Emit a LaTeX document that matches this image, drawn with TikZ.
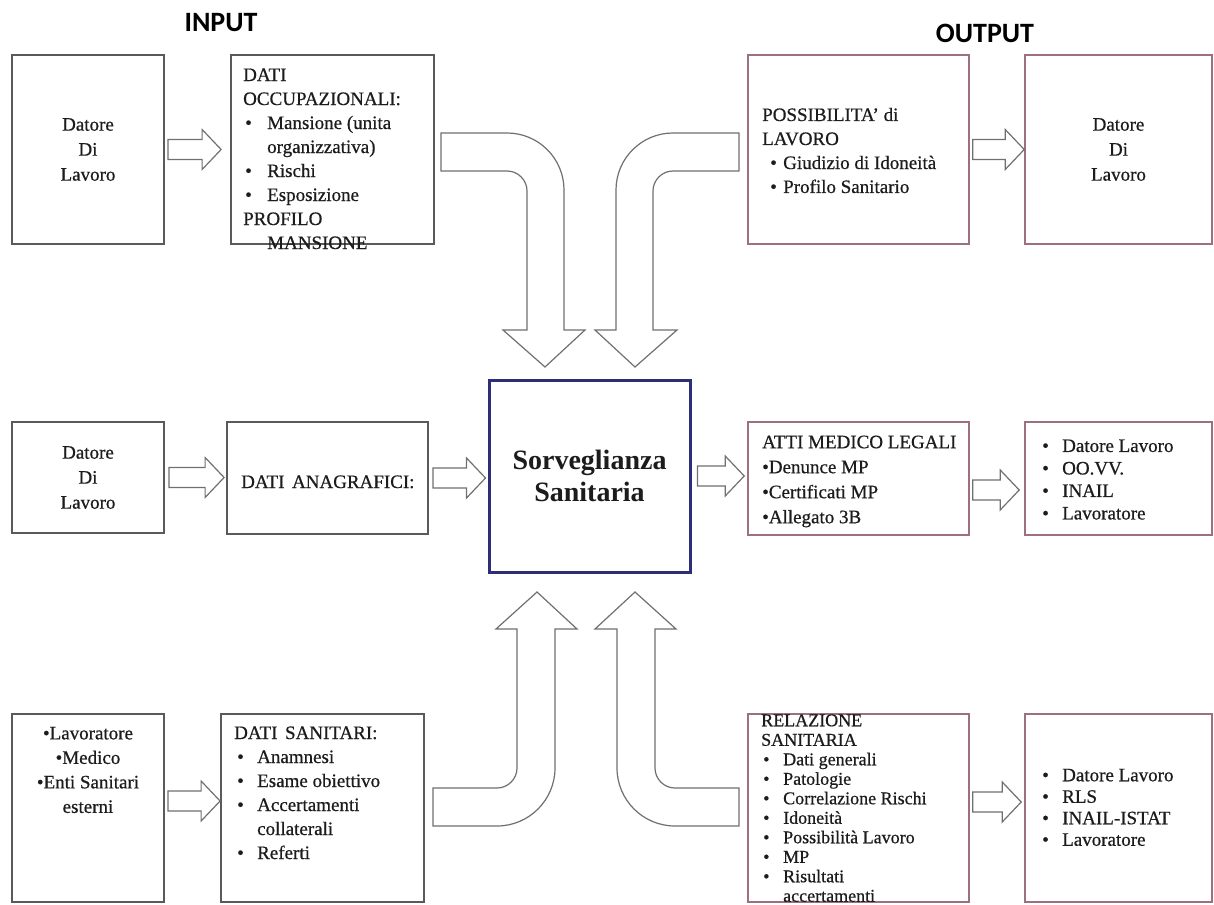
\documentclass[tikz,border=0pt]{standalone}
\usepackage{fontspec}
\setmainfont{Liberation Serif}[UprightFeatures={FakeBold=0.6}]
\newfontfamily\headfont{Carlito}
\usetikzlibrary{calc,fit}
\definecolor{gline}{HTML}{5A5A5A}
\definecolor{mline}{HTML}{9E6F7C}
\definecolor{navyline}{HTML}{2E2E78}
\definecolor{agray}{HTML}{707070}
\definecolor{txtc}{HTML}{1C1C1C}
\newcommand{\bl}[2]{\makebox[#2pt][l]{\hspace{#1pt}•}}
\newcommand{\hblock}[5]{%
  \draw[blk] let \p1=($(#1.east)+(#4,#3)$), \p2=($(#2.west)+(-#5,#3)$) in
    (\x1,\y1+10pt) -- (\x2-19pt,\y1+10pt) -- (\x2-19pt,\y1+20pt) -- (\x2,\y1)
    -- (\x2-19pt,\y1-20pt) -- (\x2-19pt,\y1-10pt) -- (\x1,\y1-10pt) -- cycle;}
\tikzset{
  lbox/.style={draw=gline, line width=1.8pt, inner sep=0pt},
  rbox/.style={draw=mline, line width=1.6pt, inner sep=0pt},
  cbox/.style={draw=navyline, line width=3pt, inner sep=0pt},
  blk/.style={draw=agray, line width=1.2pt, fill=white, line join=miter},
  txt/.style={inner sep=0pt, text=txtc, align=left, font=\fontsize{19}{24}\selectfont},
  ctxt/.style={inner sep=0pt, text=txtc, align=center, font=\fontsize{19}{25}\selectfont},
  head/.style={inner sep=0pt, text=black, font=\headfont\bfseries\fontsize{28}{32}\selectfont},
}
\begin{document}
\begin{tikzpicture}[x=1pt,y=-1pt]
\useasboundingbox[fill=white] (0,0) rectangle (1214,904);

% headers
\node[head] (inp) at (221,23) {INPUT};
\node[head] (outp) at (985,33) {OUTPUT};

% boxes
\node[lbox, fit={(12,55) (164,244)}] (a1) {};
\node[lbox, fit={(231,55) (434,244)}] (b1) {};
\node[rbox, fit={(748,55) (969,244)}] (c1) {};
\node[rbox, fit={(1025,55) (1212,244)}] (d1) {};
\node[lbox, fit={(12,422) (164,533)}] (a2) {};
\node[lbox, fit={(227,422) (428,534)}] (b2) {};
\node[cbox, fit={(489,380) (690,572)}] (s) {};
\node[rbox, fit={(748,422) (969,535)}] (c2) {};
\node[rbox, fit={(1025,422) (1212,535)}] (d2) {};
\node[lbox, fit={(12,714) (164,902)}] (a3) {};
\node[lbox, fit={(221,714) (424,902)}] (b3) {};
\node[rbox, fit={(748,714) (969,902)}] (c3) {};
\node[rbox, fit={(1025,714) (1212,902)}] (d3) {};

% texts
\node[ctxt] (a1t) at (a1.center) {Datore\\Di\\Lavoro};
\node[txt, anchor=north west] (b1t) at (243,64) {\strut DATI\\OCCUPAZIONALI:\\\bl{2}{24}Mansione (unita\\\hspace*{24pt}organizzativa)\\\bl{2}{24}Rischi\\\bl{2}{24}Esposizione\\PROFILO\\\hspace*{24pt}MANSIONE};
\node[txt, anchor=north west] (c1t) at (762,104) {\strut POSSIBILITA' di\\LAVORO\\\bl{8}{21}Giudizio di Idoneità\\\bl{8}{21}Profilo Sanitario};
\node[ctxt] (d1t) at (d1.center) {Datore\\Di\\Lavoro};

\node[ctxt] (a2t) at (a2.center) {Datore\\Di\\Lavoro};
\node[txt, anchor=base west] (b2t) at (241,488) {DATI\hspace{0.4em}ANAGRAFICI:};
\node[inner sep=0pt, text=txtc, align=center, font=\bfseries\fontsize{28}{32}\selectfont] (st) at (s.center) {Sorveglianza\\Sanitaria};
\node[txt, anchor=north west, font=\fontsize{19}{25}\selectfont] (c2t) at (762,430.5) {\strut ATTI MEDICO LEGALI\\•Denunce MP\\•Certificati MP\\•Allegato 3B};
\node[txt, anchor=north west, font=\fontsize{19}{22.5}\selectfont] (d2t) at (1040,436) {\strut\bl{2}{22}Datore Lavoro\\\bl{2}{22}OO.VV.\\\bl{2}{22}INAIL\\\bl{2}{22}Lavoratore};

\node[ctxt, anchor=north, font=\fontsize{19}{24.5}\selectfont] (a3t) at (88,722) {\strut •Lavoratore\\•Medico\\•Enti Sanitari\\esterni};
\node[txt, anchor=north west] (b3t) at (234,722) {\strut DATI\hspace{0.4em}SANITARI:\\\bl{3}{23}Anamnesi\\\bl{3}{23}Esame obiettivo\\\bl{3}{23}Accertamenti\\\hspace*{23pt}collaterali\\\bl{3}{23}Referti};
\node[txt, anchor=north west, font=\fontsize{18}{19.5}\selectfont] (c3t) at (761,712.4) {\strut RELAZIONE\\SANITARIA\\\bl{2}{22}Dati generali\\\bl{2}{22}Patologie\\\bl{2}{22}Correlazione Rischi\\\bl{2}{22}Idoneità\\\bl{2}{22}Possibilità Lavoro\\\bl{2}{22}MP\\\bl{2}{22}Risultati\\\hspace*{22pt}accertamenti};
\node[txt, anchor=north west, font=\fontsize{19}{21.5}\selectfont] (d3t) at (1040,766) {\strut\bl{2}{22}Datore Lavoro\\\bl{2}{22}RLS\\\bl{2}{22}INAIL-ISTAT\\\bl{2}{22}Lavoratore};

% straight block arrows
\hblock{a1}{b1}{0}{3}{9}
\hblock{c1}{d1}{0}{3}{0}
\hblock{a2}{b2}{0}{4}{2}
\hblock{b2}{s}{0}{4}{2}
\hblock{s}{c2}{0}{6}{3}
\hblock{c2}{d2}{11.5}{3}{5}
\hblock{a3}{b3}{-7}{3}{0}
\hblock{c3}{d3}{-6}{3}{3}

% curved block arrows
\draw[blk] (441,133) -- (507,133) .. controls (538.5,133) and (564,158.5) .. (564,190) -- (564,330) -- (585,330) -- (545,367) -- (503,330) -- (527,330) -- (527,191) .. controls (527,180) and (518,171) .. (507,171) -- (441,171) -- cycle;
\draw[blk] (739,133) -- (673,133) .. controls (641.5,133) and (616,158.5) .. (616,190) -- (616,330) -- (595,330) -- (635,367) -- (677,330) -- (653,330) -- (653,191) .. controls (653,180) and (662,171) .. (673,171) -- (739,171) -- cycle;
\draw[blk] (433,788) -- (497,788) .. controls (508,788) and (517,779) .. (517,768) -- (517,629) -- (496,629) -- (537,592) -- (577,629) -- (555,629) -- (555,768) .. controls (555,800) and (529,826) .. (497,826) -- (433,826) -- cycle;
\draw[blk] (739,788) -- (675,788) .. controls (664,788) and (655,779) .. (655,768) -- (655,629) -- (676,629) -- (635,592) -- (595,629) -- (617,629) -- (617,768) .. controls (617,800) and (643,826) .. (675,826) -- (739,826) -- cycle;
\end{tikzpicture}
\end{document}
